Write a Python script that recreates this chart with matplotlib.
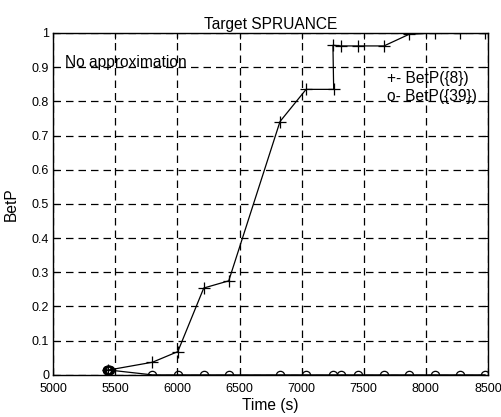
import numpy as np
import matplotlib
matplotlib.use("Agg")
import matplotlib.pyplot as plt

plt.rcParams['font.family'] = ['Liberation Sans', 'DejaVu Sans']

# Temps (s) et probabilites pignistiques
t_8 = [5442, 5799, 6003, 6212, 6413, 6826, 7036, 7258, 7252, 7315, 7455, 7663, 7865, 8071, 8275, 8476]
betp_8 = [0.014, 0.037, 0.068, 0.254, 0.275, 0.741, 0.835, 0.835, 0.964, 0.962, 0.962, 0.962, 0.996, 1.0, 1.0, 1.0]

t_39 = [5430, 5434, 5438, 5442, 5446, 5450, 5454, 5799, 6003, 6212, 6413, 6826, 7036, 7250, 7315, 7455, 7663, 7865, 8071, 8275, 8476]
betp_39 = [0.014, 0.014, 0.014, 0.014, 0.014, 0.014, 0.014, 0, 0, 0, 0, 0, 0, 0, 0, 0, 0, 0, 0, 0, 0]

xticks = np.arange(5000, 8501, 500)
yticks = np.arange(0, 1.01, 0.1)

fig = plt.figure(figsize=(5.02, 4.17), dpi=100)
ax = fig.add_axes([0.106, 0.101, 0.866, 0.820])

ax.plot(t_8, betp_8, 'k-+', lw=0.9, ms=8, mew=0.9)
ax.plot(t_39, betp_39, 'k-o', lw=0.9, ms=6, mew=0.9, mfc='none')

ax.set_xlim(5000, 8500)
ax.set_ylim(0, 1)
ax.set_xticks(xticks)
ax.set_yticks(yticks)
ax.set_yticklabels(['0', '0.1', '0.2', '0.3', '0.4', '0.5', '0.6', '0.7', '0.8', '0.9', '1'])
ax.grid(True, color='k', ls=(0, (6, 4)), lw=0.9)
ax.tick_params(direction='in', top=True, right=True, labelsize=9, length=4)
ax.tick_params(axis='x', pad=6)
ax.tick_params(axis='y', pad=3)
for s in ax.spines.values():
    s.set_linewidth(1.0)

ax.set_title('Target SPRUANCE', fontsize=11.2, pad=3)
ax.set_xlabel('Time (s)', fontsize=11.2, labelpad=2)
ax.set_ylabel('BetP', fontsize=11.2, labelpad=9)

ax.text(5097, 0.915, 'No approximation', fontsize=11.2, va='center', ha='left')
ax.text(7690, 0.866, '+- BetP({8})', fontsize=11.2, va='center', ha='left')
ax.text(7690, 0.814, 'o- BetP({39})', fontsize=11.2, va='center', ha='left')

fig.savefig('out.png', dpi=100)
